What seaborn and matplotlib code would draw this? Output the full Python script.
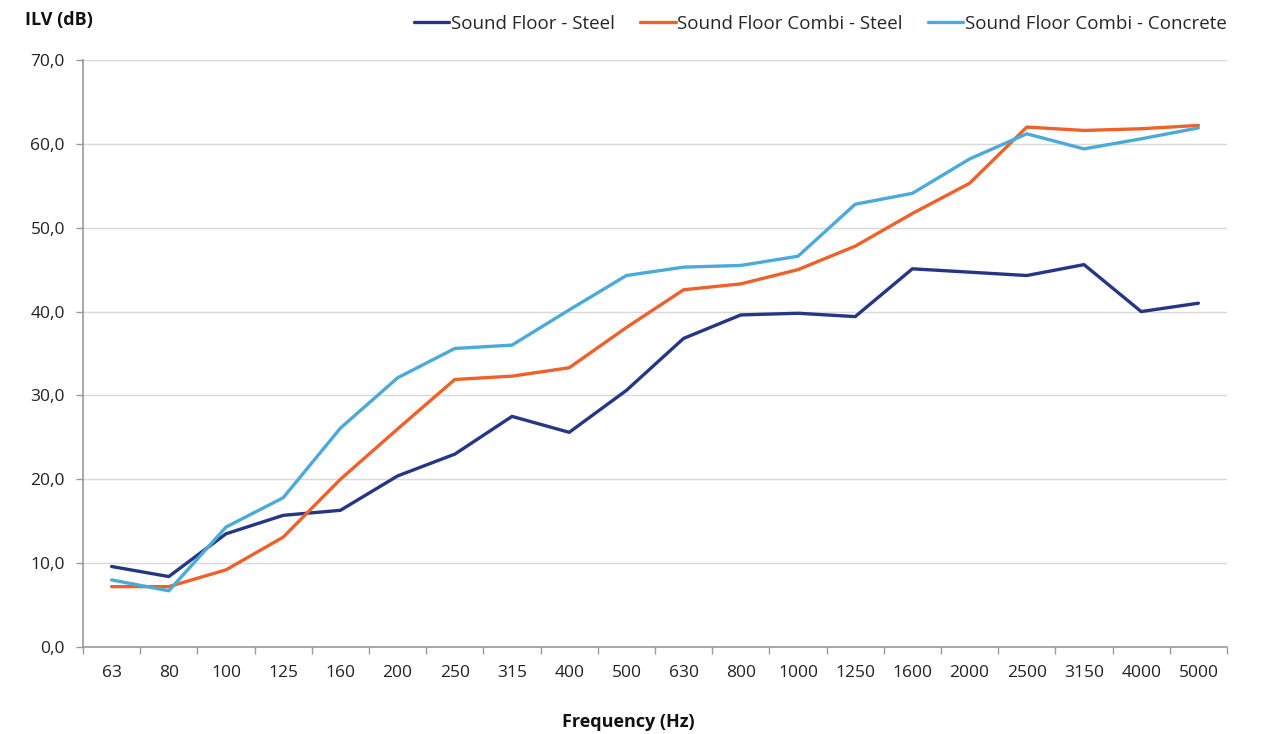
import matplotlib
matplotlib.use("Agg")
import matplotlib.pyplot as plt
from matplotlib.ticker import FuncFormatter, FixedLocator, MultipleLocator
import seaborn as sns
import pandas as pd
import numpy as np

freqs = ["63", "80", "100", "125", "160", "200", "250", "315", "400", "500",
         "630", "800", "1000", "1250", "1600", "2000", "2500", "3150", "4000", "5000"]
sound_floor_steel = [9.6, 8.4, 13.5, 15.7, 16.3, 20.4, 23.0, 27.5, 25.6, 30.6,
                     36.8, 39.6, 39.8, 39.4, 45.1, 44.7, 44.3, 45.6, 40.0, 41.0]
combi_steel = [7.2, 7.2, 9.2, 13.1, 20.0, 26.0, 31.9, 32.3, 33.3, 38.1,
               42.6, 43.3, 45.0, 47.8, 51.7, 55.3, 62.0, 61.6, 61.8, 62.2]
combi_concrete = [8.0, 6.7, 14.3, 17.8, 26.1, 32.1, 35.6, 36.0, 40.2, 44.3,
                  45.3, 45.5, 46.6, 52.8, 54.1, 58.2, 61.2, 59.4, 60.6, 61.9]
series_names = ["Sound Floor - Steel", "Sound Floor Combi - Steel", "Sound Floor Combi - Concrete"]
colors = ["#263686", "#EF612A", "#4BAADA"]

rows = []
for name, vals in zip(series_names, [sound_floor_steel, combi_steel, combi_concrete]):
    for i, v in enumerate(vals):
        rows.append({"pos": i, "value": v, "series": name})
df = pd.DataFrame(rows)

sns.set_theme(style="white")
plt.rcParams['font.family'] = ['Open Sans', 'DejaVu Sans']

fig = plt.figure(figsize=(12.62, 7.34), dpi=100)
ax = fig.add_axes([83/1262, 1-647/734, (1227-83)/1262, (647-60)/734])

sns.lineplot(data=df, x="pos", y="value", hue="series", hue_order=series_names,
             palette=colors, linewidth=2.4, ax=ax, legend=True)

ax.set_xlim(-0.5, len(freqs) - 0.5)
ax.set_ylim(0, 70)
ax.yaxis.set_major_locator(MultipleLocator(10))
ax.yaxis.set_major_formatter(FuncFormatter(lambda v, p: f"{v:.1f}".replace(".", ",")))
ax.set_xticks(range(len(freqs)))
ax.set_xticklabels(freqs)
ax.xaxis.set_minor_locator(FixedLocator(np.arange(-0.5, len(freqs), 1.0)))
ax.tick_params(axis="x", which="major", length=0, pad=13, labelsize=12.5, colors="#222222")
ax.tick_params(axis="x", which="minor", length=5, width=1, color="#999999", direction="out", bottom=True)
ax.tick_params(axis="y", which="major", length=5, width=1, color="#999999", direction="out", left=True,
               labelsize=12.5, labelcolor="#222222", pad=8)
ax.grid(axis="y", color="#D9D9D9", linewidth=1)
ax.set_axisbelow(True)
for s in ["top", "right"]:
    ax.spines[s].set_visible(False)
for s in ["left", "bottom"]:
    ax.spines[s].set_color("#999999")
    ax.spines[s].set_linewidth(1.2)

ax.set_xlabel("Frequency (Hz)", fontsize=13, fontweight="bold", color="#111111")
ax.xaxis.set_label_coords((628-83)/1144, -(722-647)/587)
ax.xaxis.label.set_va("center")
ax.set_ylabel("")
fig.text(25/1262, 1-20/734, "ILV (dB)", fontsize=13, fontweight="bold", va="center", ha="left", color="#111111")

handles, labels = ax.get_legend_handles_labels()
leg = ax.legend(handles, labels, loc="center right", bbox_to_anchor=(1.0, 1+(60-24)/587), ncol=3, frameon=False,
          fontsize=13.5, handlelength=1.87, handletextpad=0.1, columnspacing=1.35, borderaxespad=0,
          borderpad=0)

fig.savefig("out.png", dpi=100)
